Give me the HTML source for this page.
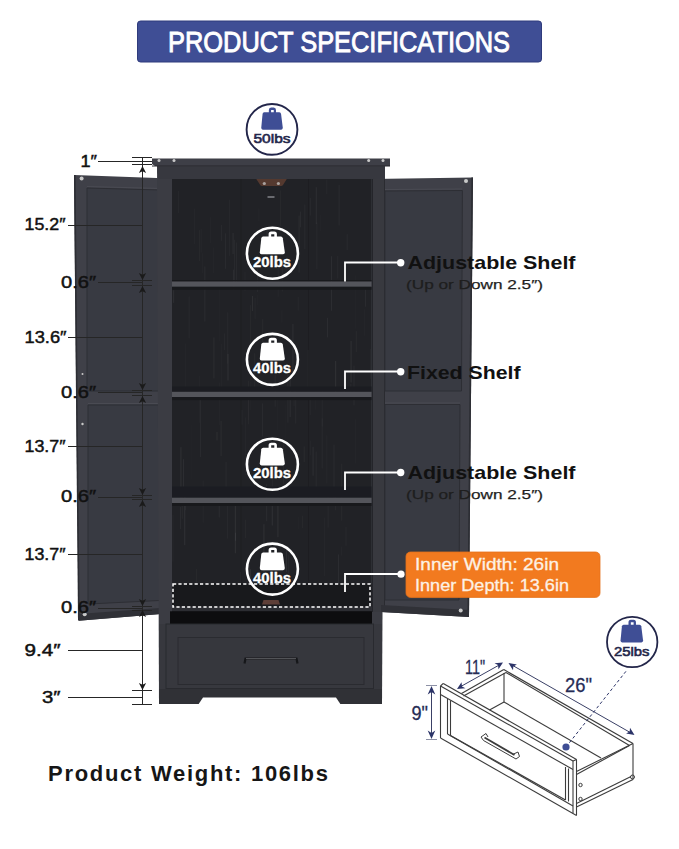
<!DOCTYPE html>
<html><head><meta charset="utf-8">
<style>
html,body{margin:0;padding:0;background:#fff;width:679px;height:849px;overflow:hidden}
svg{display:block}
text{font-family:"Liberation Sans",sans-serif}
</style></head>
<body>
<svg width="679" height="849" viewBox="0 0 679 849">
<defs>
  <g id="wt">
    <path d="M-2.6,-16 L-2.6,-19 Q-2.6,-20.3 -1.3,-20.3 L1.8,-20.3 Q3.1,-20.3 3.1,-19 L3.1,-16" fill="none" stroke-width="2.6"/>
    <path d="M-9.3,-16.6 L8.3,-16.6 Q10,-16.6 10.3,-15 L12.3,-1 Q12.5,1.1 10.5,1.1 L-11,1.1 Q-12.9,1.1 -12.7,-1 L-11.2,-15 Q-11,-16.6 -9.3,-16.6 Z" stroke="none"/>
  </g>
</defs>
<rect width="679" height="849" fill="#fff"/>

<!-- Banner -->
<rect x="137.5" y="21" width="404" height="41" rx="3" fill="#3f4e95" stroke="#2f3b7c" stroke-width="1"/>
<text x="168" y="51.5" font-size="29" fill="#fff" stroke="#fff" stroke-width="0.9" textLength="342" lengthAdjust="spacingAndGlyphs">PRODUCT SPECIFICATIONS</text>

<!-- 50lbs circle -->
<circle cx="272" cy="129.4" r="25.4" fill="#fff" stroke="#23264a" stroke-width="1.9"/>
<g transform="translate(272.2,128.6) scale(0.86,0.98)" fill="#3f4e95" stroke="#3f4e95"><use href="#wt"/></g>
<text x="253.5" y="143" font-size="13.4" fill="#23264a" stroke="#23264a" stroke-width="0.6" textLength="37" lengthAdjust="spacingAndGlyphs">50lbs</text>

<!-- ===== CABINET ===== -->
<!-- left door -->
<polygon points="74,175 157,178 172,179 173,613 78.5,620.7" fill="#3f4048"/>
<line x1="74.8" y1="175" x2="78.8" y2="620" stroke="#2c2d33" stroke-width="1.6"/>
<polygon points="87,188 161,190 161,391 87,391" fill="#383a42" stroke="#2d2e34" stroke-width="1"/>
<polygon points="88,405 161.5,405 161.5,600.4 88,604" fill="#383a42" stroke="#2d2e34" stroke-width="1"/>
<line x1="87" y1="186.5" x2="161" y2="188.5" stroke="#4a4b53" stroke-width="1"/><line x1="88" y1="403.5" x2="161" y2="403.5" stroke="#4a4b53" stroke-width="1"/>
<polygon points="78.5,620.7 173,613 173,607 78.5,614" fill="#303137"/>
<line x1="161.5" y1="179" x2="161.5" y2="612" stroke="#25262b" stroke-width="1"/>
<!-- body -->
<polygon points="157,165 385,165 382,704 159,704" fill="#3b3c43"/>
<!-- top slab -->
<polygon points="152,158.5 390,158.5 390,166 155,166 152,164" fill="#3e3f47"/>
<line x1="152" y1="166" x2="390" y2="166" stroke="#26272c" stroke-width="1"/>
<rect x="158" y="166.5" width="227" height="12.5" fill="#37383f"/>
<!-- interior -->
<rect x="172" y="179" width="199.5" height="433" fill="#212226"/>
<g id="grain" opacity="1">
<rect x="236.4" y="242.5" width="0.6" height="41.8" fill="#fff" opacity="0.06"/>
<rect x="190.7" y="424.4" width="0.8" height="55.3" fill="#fff" opacity="0.02"/>
<rect x="258.3" y="208.4" width="1.2" height="12.7" fill="#fff" opacity="0.02"/>
<rect x="284.5" y="577.9" width="0.6" height="27.1" fill="#fff" opacity="0.04"/>
<rect x="250.9" y="590.0" width="0.8" height="10.4" fill="#fff" opacity="0.03"/>
<rect x="200.7" y="228.6" width="0.8" height="24.0" fill="#fff" opacity="0.03"/>
<rect x="285.7" y="258.1" width="0.6" height="13.1" fill="#fff" opacity="0.04"/>
<rect x="295.2" y="388.0" width="1.0" height="35.6" fill="#fff" opacity="0.04"/>
<rect x="355.8" y="331.2" width="0.8" height="20.9" fill="#fff" opacity="0.05"/>
<rect x="220.6" y="420.8" width="1.0" height="35.3" fill="#fff" opacity="0.05"/>
<rect x="229.3" y="591.7" width="1.2" height="13.3" fill="#fff" opacity="0.03"/>
<rect x="240.1" y="571.9" width="0.6" height="29.9" fill="#fff" opacity="0.06"/>
<rect x="286.0" y="547.6" width="1.0" height="24.3" fill="#fff" opacity="0.05"/>
<rect x="287.4" y="371.1" width="1.0" height="51.7" fill="#fff" opacity="0.04"/>
<rect x="304.2" y="204.5" width="1.2" height="44.5" fill="#fff" opacity="0.03"/>
<rect x="248.8" y="460.5" width="1.2" height="9.2" fill="#fff" opacity="0.03"/>
<rect x="293.6" y="386.8" width="1.0" height="19.3" fill="#fff" opacity="0.03"/>
<rect x="221.3" y="343.6" width="0.6" height="53.3" fill="#fff" opacity="0.03"/>
<rect x="251.9" y="296.0" width="1.2" height="15.1" fill="#fff" opacity="0.06"/>
<rect x="227.4" y="353.8" width="1.2" height="26.7" fill="#fff" opacity="0.06"/>
<rect x="202.0" y="253.2" width="0.8" height="20.1" fill="#fff" opacity="0.02"/>
<rect x="337.4" y="255.8" width="0.8" height="22.7" fill="#fff" opacity="0.04"/>
<rect x="245.5" y="417.4" width="0.6" height="57.6" fill="#fff" opacity="0.04"/>
<rect x="345.3" y="579.7" width="1.2" height="25.3" fill="#fff" opacity="0.03"/>
<rect x="250.4" y="381.7" width="0.8" height="28.8" fill="#fff" opacity="0.02"/>
<rect x="213.5" y="247.3" width="0.6" height="25.7" fill="#fff" opacity="0.03"/>
<rect x="284.8" y="404.9" width="0.6" height="57.3" fill="#fff" opacity="0.02"/>
<rect x="213.4" y="337.4" width="1.0" height="41.0" fill="#fff" opacity="0.05"/>
<rect x="266.4" y="227.6" width="1.2" height="33.4" fill="#fff" opacity="0.04"/>
<rect x="234.1" y="239.7" width="1.0" height="47.0" fill="#fff" opacity="0.04"/>
<rect x="309.7" y="396.4" width="1.0" height="18.7" fill="#fff" opacity="0.03"/>
<rect x="280.1" y="190.4" width="0.6" height="35.5" fill="#fff" opacity="0.05"/>
<rect x="224.0" y="333.4" width="0.8" height="16.7" fill="#fff" opacity="0.04"/>
<rect x="327.0" y="317.8" width="0.8" height="19.6" fill="#fff" opacity="0.06"/>
<rect x="334.8" y="490.5" width="1.2" height="19.8" fill="#fff" opacity="0.03"/>
<rect x="177.8" y="190.8" width="1.0" height="22.5" fill="#fff" opacity="0.03"/>
<rect x="292.4" y="323.9" width="1.0" height="50.0" fill="#fff" opacity="0.06"/>
<rect x="244.6" y="271.8" width="0.8" height="19.8" fill="#fff" opacity="0.03"/>
<rect x="268.0" y="593.8" width="0.6" height="11.2" fill="#fff" opacity="0.04"/>
<rect x="301.9" y="515.7" width="0.6" height="12.4" fill="#fff" opacity="0.06"/>
<rect x="327.7" y="494.8" width="0.8" height="32.9" fill="#fff" opacity="0.04"/>
<rect x="298.5" y="215.5" width="1.2" height="57.2" fill="#fff" opacity="0.04"/>
<rect x="319.9" y="214.8" width="0.8" height="16.3" fill="#fff" opacity="0.02"/>
<rect x="289.6" y="374.9" width="1.2" height="42.1" fill="#fff" opacity="0.05"/>
<rect x="241.7" y="410.0" width="0.6" height="14.8" fill="#fff" opacity="0.06"/>
<rect x="316.5" y="222.3" width="0.8" height="47.0" fill="#fff" opacity="0.04"/>
<rect x="345.5" y="526.8" width="1.0" height="19.0" fill="#fff" opacity="0.03"/>
<rect x="271.7" y="500.5" width="1.2" height="25.0" fill="#fff" opacity="0.06"/>
<rect x="184.1" y="490.5" width="1.2" height="54.7" fill="#fff" opacity="0.06"/>
<rect x="346.8" y="234.1" width="0.6" height="15.9" fill="#fff" opacity="0.06"/>
<rect x="326.5" y="435.2" width="0.8" height="48.4" fill="#fff" opacity="0.03"/>
<rect x="266.2" y="484.3" width="1.0" height="36.9" fill="#fff" opacity="0.05"/>
<rect x="277.6" y="382.1" width="0.6" height="48.4" fill="#fff" opacity="0.03"/>
<rect x="227.1" y="504.1" width="0.6" height="34.4" fill="#fff" opacity="0.06"/>
<rect x="353.6" y="365.6" width="0.8" height="39.9" fill="#fff" opacity="0.05"/>
<rect x="262.0" y="403.5" width="0.8" height="32.9" fill="#fff" opacity="0.05"/>
<rect x="346.4" y="575.7" width="0.8" height="21.5" fill="#fff" opacity="0.06"/>
<rect x="199.3" y="230.2" width="0.6" height="31.0" fill="#fff" opacity="0.05"/>
<rect x="257.2" y="268.5" width="0.6" height="23.7" fill="#fff" opacity="0.06"/>
<rect x="202.7" y="480.5" width="0.8" height="42.3" fill="#fff" opacity="0.03"/>
<rect x="199.3" y="375.9" width="0.6" height="46.8" fill="#fff" opacity="0.03"/>
<rect x="269.0" y="595.7" width="0.8" height="9.3" fill="#fff" opacity="0.05"/>
<rect x="369.8" y="349.0" width="1.0" height="29.9" fill="#fff" opacity="0.03"/>
<rect x="315.7" y="187.2" width="1.2" height="36.8" fill="#fff" opacity="0.05"/>
<rect x="248.5" y="396.8" width="0.6" height="23.4" fill="#fff" opacity="0.03"/>
<rect x="354.8" y="275.2" width="0.6" height="53.6" fill="#fff" opacity="0.03"/>
<rect x="179.9" y="507.0" width="0.8" height="22.1" fill="#fff" opacity="0.06"/>
<rect x="341.1" y="463.6" width="1.2" height="57.2" fill="#fff" opacity="0.03"/>
<rect x="354.9" y="419.2" width="0.6" height="44.4" fill="#fff" opacity="0.03"/>
<rect x="331.1" y="256.2" width="1.0" height="54.6" fill="#fff" opacity="0.06"/>
<rect x="298.3" y="516.5" width="0.8" height="12.4" fill="#fff" opacity="0.02"/>
<rect x="343.7" y="370.0" width="1.2" height="25.6" fill="#fff" opacity="0.06"/>
<rect x="225.3" y="233.4" width="0.8" height="35.4" fill="#fff" opacity="0.06"/>
<rect x="364.9" y="289.3" width="1.0" height="17.4" fill="#fff" opacity="0.05"/>
<rect x="277.7" y="265.7" width="0.8" height="31.2" fill="#fff" opacity="0.03"/>
<rect x="331.9" y="597.7" width="0.6" height="7.3" fill="#fff" opacity="0.05"/>
<rect x="281.7" y="258.8" width="1.2" height="32.7" fill="#fff" opacity="0.03"/>
<rect x="335.0" y="360.9" width="1.2" height="33.7" fill="#fff" opacity="0.06"/>
<rect x="233.2" y="269.6" width="0.8" height="19.9" fill="#fff" opacity="0.06"/>
<rect x="312.6" y="446.7" width="1.0" height="29.0" fill="#fff" opacity="0.06"/>
<rect x="338.6" y="185.0" width="1.0" height="40.5" fill="#fff" opacity="0.04"/>
<rect x="183.0" y="459.1" width="1.0" height="27.8" fill="#fff" opacity="0.05"/>
<rect x="309.8" y="198.0" width="1.0" height="17.6" fill="#fff" opacity="0.04"/>
<rect x="224.4" y="583.9" width="1.0" height="21.1" fill="#fff" opacity="0.03"/>
<rect x="364.2" y="309.3" width="0.6" height="26.5" fill="#fff" opacity="0.03"/>
<rect x="188.7" y="296.4" width="0.8" height="42.1" fill="#fff" opacity="0.04"/>
<rect x="173.0" y="290.2" width="1.2" height="12.7" fill="#fff" opacity="0.05"/>
<rect x="250.4" y="305.2" width="0.6" height="40.7" fill="#fff" opacity="0.05"/>
<rect x="277.3" y="495.0" width="1.2" height="42.2" fill="#fff" opacity="0.06"/>
<rect x="315.4" y="387.1" width="0.8" height="22.8" fill="#fff" opacity="0.02"/>
<rect x="338.2" y="554.5" width="0.8" height="40.6" fill="#fff" opacity="0.06"/>
<rect x="321.8" y="418.3" width="0.6" height="50.3" fill="#fff" opacity="0.06"/>
<rect x="288.2" y="554.9" width="0.8" height="43.5" fill="#fff" opacity="0.03"/>
<rect x="180.3" y="447.2" width="1.2" height="57.9" fill="#fff" opacity="0.06"/>
<rect x="283.1" y="443.3" width="0.8" height="40.6" fill="#fff" opacity="0.04"/>
<rect x="172.7" y="514.8" width="0.6" height="46.9" fill="#fff" opacity="0.05"/>
<rect x="185.1" y="489.2" width="0.6" height="21.1" fill="#fff" opacity="0.06"/>
<rect x="218.7" y="497.5" width="1.2" height="20.0" fill="#fff" opacity="0.04"/>
<rect x="248.1" y="380.7" width="0.6" height="43.6" fill="#fff" opacity="0.05"/>
<rect x="299.9" y="211.6" width="1.0" height="15.7" fill="#fff" opacity="0.05"/>
<rect x="309.9" y="440.5" width="1.2" height="14.9" fill="#fff" opacity="0.02"/>
<rect x="225.5" y="461.9" width="1.2" height="44.0" fill="#fff" opacity="0.03"/>
<rect x="274.8" y="374.6" width="0.6" height="32.2" fill="#fff" opacity="0.06"/>
<rect x="281.3" y="310.2" width="1.2" height="12.5" fill="#fff" opacity="0.02"/>
<rect x="263.3" y="524.2" width="1.2" height="58.3" fill="#fff" opacity="0.06"/>
<rect x="249.0" y="564.9" width="0.6" height="40.1" fill="#fff" opacity="0.04"/>
<rect x="200.2" y="399.6" width="0.8" height="57.5" fill="#fff" opacity="0.05"/>
<rect x="297.7" y="296.7" width="1.0" height="13.9" fill="#fff" opacity="0.03"/>
<rect x="350.6" y="383.7" width="0.6" height="9.3" fill="#fff" opacity="0.06"/>
<rect x="307.6" y="349.7" width="1.2" height="45.8" fill="#fff" opacity="0.03"/>
<rect x="234.9" y="532.7" width="1.0" height="8.1" fill="#fff" opacity="0.06"/>
<rect x="195.9" y="569.0" width="1.0" height="36.0" fill="#fff" opacity="0.03"/>
<rect x="184.9" y="343.3" width="0.6" height="53.2" fill="#fff" opacity="0.03"/>
<rect x="257.2" y="294.8" width="0.6" height="10.5" fill="#fff" opacity="0.02"/>
<rect x="303.7" y="446.3" width="1.0" height="15.7" fill="#fff" opacity="0.04"/>
<rect x="234.8" y="504.5" width="1.2" height="48.8" fill="#fff" opacity="0.06"/>
<rect x="333.6" y="444.6" width="0.8" height="55.5" fill="#fff" opacity="0.05"/>
<rect x="181.8" y="487.3" width="0.8" height="31.4" fill="#fff" opacity="0.05"/>
<rect x="229.0" y="199.6" width="0.8" height="56.2" fill="#fff" opacity="0.03"/>
<rect x="254.6" y="297.6" width="1.0" height="21.3" fill="#fff" opacity="0.03"/>
<rect x="219.5" y="382.4" width="0.6" height="42.8" fill="#fff" opacity="0.03"/>
<rect x="204.2" y="266.5" width="1.2" height="55.1" fill="#fff" opacity="0.04"/>
<rect x="262.1" y="319.1" width="1.2" height="47.5" fill="#fff" opacity="0.03"/>
<rect x="210.3" y="217.2" width="0.6" height="25.8" fill="#fff" opacity="0.03"/>
<rect x="245.3" y="519.7" width="0.6" height="18.5" fill="#fff" opacity="0.05"/>
<rect x="254.1" y="353.2" width="1.2" height="35.3" fill="#fff" opacity="0.03"/>
<rect x="321.7" y="388.7" width="1.0" height="37.9" fill="#fff" opacity="0.03"/>
<rect x="272.2" y="444.1" width="0.8" height="52.9" fill="#fff" opacity="0.03"/>
<rect x="350.5" y="340.9" width="1.2" height="41.6" fill="#fff" opacity="0.06"/>
<rect x="340.9" y="546.5" width="0.6" height="9.1" fill="#fff" opacity="0.04"/>
<rect x="324.0" y="517.6" width="1.2" height="58.4" fill="#fff" opacity="0.02"/>
<rect x="249.9" y="569.2" width="1.2" height="35.8" fill="#fff" opacity="0.06"/>
<rect x="221.4" y="224.9" width="0.6" height="16.0" fill="#fff" opacity="0.06"/>
<rect x="315.6" y="451.5" width="1.2" height="47.8" fill="#fff" opacity="0.03"/>
<rect x="326.6" y="179.6" width="0.6" height="14.5" fill="#fff" opacity="0.05"/>
<rect x="232.5" y="232.9" width="1.2" height="21.1" fill="#fff" opacity="0.05"/>
<rect x="194.3" y="208.6" width="0.8" height="35.3" fill="#fff" opacity="0.03"/>
<rect x="216.5" y="432.0" width="1.0" height="8.5" fill="#fff" opacity="0.06"/>
<rect x="227.4" y="312.2" width="0.8" height="51.6" fill="#fff" opacity="0.04"/>
<rect x="218.7" y="283.0" width="1.0" height="58.0" fill="#fff" opacity="0.02"/>
<rect x="240.5" y="179" width="1" height="428" fill="#000" opacity="0.12"/>
<rect x="308" y="179" width="1" height="428" fill="#000" opacity="0.12"/>
</g>
<!-- bracket -->
<path d="M256.3,179 L286.8,179 L283,185 Q282.4,186 281,186 L262,186 Q260.8,186 260.2,185 Z" fill="#54392f"/>
<circle cx="264.3" cy="183.5" r="1.6" fill="#a9a29f"/><circle cx="278.4" cy="183.5" r="1.6" fill="#a9a29f"/>
<rect x="267.5" y="196" width="7" height="2" fill="#6a6b70"/>
<!-- shelves -->
<rect x="172" y="280" width="199.5" height="1.5" fill="#18191c"/>
<rect x="172" y="281.5" width="199.5" height="5.3" fill="#54555b"/>
<rect x="172" y="286.8" width="199.5" height="3" fill="#18191c"/>
<rect x="172" y="386.5" width="199.5" height="5.3" fill="#1b1c21"/>
<rect x="172" y="391.8" width="199.5" height="5.3" fill="#54555b"/>
<rect x="172" y="397.1" width="199.5" height="3" fill="#18191c"/>
<rect x="172" y="486.5" width="199.5" height="11.2" fill="#1b1c22"/>
<rect x="172" y="497.7" width="199.5" height="5.3" fill="#54555b"/>
<rect x="172" y="503" width="199.5" height="3" fill="#18191c"/>
<rect x="172" y="584" width="199.5" height="23" fill="#18191c"/>
<rect x="172" y="606.5" width="199.5" height="4.8" fill="#2c2d32"/>
<rect x="170" y="611.3" width="202" height="13" fill="#0d0d0f"/>
<!-- small brown mark bottom -->
<path d="M262,604.5 L263.5,600 L278.5,600 L280,604.5 Z" fill="#5e3f38"/>
<!-- drawer -->
<rect x="159" y="624" width="223" height="80" fill="#37383e"/>
<rect x="166" y="624" width="207.5" height="64.5" fill="#37383e" stroke="#292a2f" stroke-width="1"/>
<rect x="178" y="637.5" width="186" height="47" fill="#36373d" stroke="#2a2b30" stroke-width="1"/>
<rect x="159" y="689" width="223" height="15" fill="#303136"/>
<path d="M244.5,663.5 L245.5,658.5 L296.5,658.5 L297.5,663.5" fill="none" stroke="#16171a" stroke-width="2.2"/><line x1="246" y1="658.6" x2="296" y2="658.6" stroke="#6a6b70" stroke-width="0.8"/>
<path d="M198,705 L203,697.5 L336,697.5 L341,705 Z" fill="#fff"/>
<!-- right door -->
<polygon points="372,179 473,177.5 469,617 381,612 372,612" fill="#3f4048"/>
<line x1="472.2" y1="177.5" x2="468.2" y2="617" stroke="#2c2d33" stroke-width="1.6"/>
<rect x="372" y="179" width="12.5" height="433" fill="#38393f"/>
<line x1="372.5" y1="179" x2="372.5" y2="612" stroke="#24252a" stroke-width="1"/>
<line x1="384.5" y1="179" x2="384.5" y2="612" stroke="#2a2b30" stroke-width="1"/>
<polygon points="385,191 462.4,190.5 461.5,391 385,391" fill="#383a42" stroke="#2d2e34" stroke-width="1"/>
<polygon points="385,404.5 460,404.5 459,600 385,600" fill="#383a42" stroke="#2d2e34" stroke-width="1"/>
<line x1="385" y1="189.5" x2="462" y2="189" stroke="#4a4b53" stroke-width="1"/><line x1="385" y1="403" x2="460" y2="403" stroke="#4a4b53" stroke-width="1"/>
<polygon points="381,612 469,617 469,610 381,605" fill="#303137"/>
<!-- screws -->
<g fill="#c9c9c9">
<circle cx="81.6" cy="178.5" r="2"/><circle cx="466" cy="181" r="2"/>
<circle cx="82.5" cy="374" r="1"/><circle cx="82.5" cy="424" r="1.2"/>
<circle cx="84.7" cy="614.3" r="2"/><circle cx="460.7" cy="610.4" r="2"/>
<circle cx="159" cy="160.5" r="1.5"/><circle cx="174" cy="160.5" r="1.5"/>
<circle cx="368.7" cy="160.6" r="1.5"/><circle cx="383" cy="160.6" r="1.5"/>
</g>

<!-- circles in cabinet -->
<g fill="none" stroke="#fff" stroke-width="2.6">
<circle cx="272.4" cy="253.2" r="25.5"/>
<circle cx="272.4" cy="359.4" r="25.5"/>
<circle cx="272.4" cy="464.3" r="25.5"/>
<circle cx="272.4" cy="569.1" r="25.5"/>
</g>
<g fill="#fff" stroke="#fff">
<g transform="translate(272.5,253.2)"><use href="#wt"/></g>
<g transform="translate(272.5,359.4)"><use href="#wt"/></g>
<g transform="translate(272.5,464.3)"><use href="#wt"/></g>
<g transform="translate(272.5,569.1)"><use href="#wt"/></g>
</g>
<g font-size="14.5" font-weight="bold" fill="#fff" stroke="#fff" stroke-width="0.3">
<text x="253" y="267.0" textLength="38" lengthAdjust="spacingAndGlyphs">20lbs</text>
<text x="253" y="373.2" textLength="38" lengthAdjust="spacingAndGlyphs">40lbs</text>
<text x="253" y="478.1" textLength="38" lengthAdjust="spacingAndGlyphs">20lbs</text>
<text x="253" y="582.9" textLength="38" lengthAdjust="spacingAndGlyphs">40lbs</text>
</g>
<!-- dashed rect -->
<rect x="173" y="584" width="197" height="23" fill="none" stroke="#fff" stroke-width="1.5" stroke-dasharray="3.2,2.2"/>

<!-- leaders -->
<g stroke="#fff" stroke-width="1.8" fill="none">
<polyline points="345,281.5 345,262.5 400,262.5"/>
<polyline points="345,389 345,371.5 400,371.5"/>
<polyline points="345,490 345,472.5 400,472.5"/>
<polyline points="345,592 345,574 401,574"/>
</g>
<g fill="#fff">
<circle cx="400.7" cy="262.8" r="3.7"/><circle cx="400.7" cy="371.7" r="3.7"/>
<circle cx="400.7" cy="472.5" r="3.7"/><circle cx="401" cy="574.2" r="3.6"/>
</g>

<!-- labels -->
<g font-weight="bold" fill="#111">
<text x="407.5" y="269" font-size="18.4" textLength="168" lengthAdjust="spacingAndGlyphs">Adjustable Shelf</text>
<text x="407" y="378.6" font-size="18.4" textLength="113.5" lengthAdjust="spacingAndGlyphs">Fixed Shelf</text>
<text x="407.5" y="479" font-size="18.4" textLength="168" lengthAdjust="spacingAndGlyphs">Adjustable Shelf</text>
</g>
<g fill="#1e1e1e" stroke="#1e1e1e" stroke-width="0.25">
<text x="406" y="288.6" font-size="13.6" textLength="137" lengthAdjust="spacingAndGlyphs">(Up or Down 2.5″)</text>
<text x="406" y="498.6" font-size="13.6" textLength="137" lengthAdjust="spacingAndGlyphs">(Up or Down 2.5″)</text>
</g>

<!-- orange box -->
<rect x="406" y="552" width="194" height="45.4" rx="4.5" fill="#f27a1f" stroke="#e5721c" stroke-width="0.8"/>
<g fill="#fdf1e4" stroke="#fdf1e4" stroke-width="0.3" font-size="17">
<text x="415" y="570" textLength="144" lengthAdjust="spacingAndGlyphs">Inner Width: 26in</text>
<text x="415" y="590.9" textLength="154" lengthAdjust="spacingAndGlyphs">Inner Depth: 13.6in</text>
</g>

<!-- dimension lines left -->
<g stroke="#262626" stroke-width="1" fill="none">
<line x1="142.5" y1="157" x2="142.5" y2="705"/>
<line x1="98" y1="161.5" x2="152" y2="161.5"/>
<line x1="132" y1="157.5" x2="152" y2="157.5"/>
<line x1="132" y1="164.5" x2="152" y2="164.5"/>
<line x1="68" y1="225.5" x2="142.5" y2="225.5"/>
<line x1="98" y1="282.5" x2="142.5" y2="282.5"/>
<line x1="132" y1="280.5" x2="152" y2="280.5"/>
<line x1="132" y1="285.5" x2="152" y2="285.5"/>
<line x1="68" y1="337.5" x2="142.5" y2="337.5"/>
<line x1="98" y1="392.5" x2="142.5" y2="392.5"/>
<line x1="132" y1="390.5" x2="152" y2="390.5"/>
<line x1="132" y1="395.5" x2="152" y2="395.5"/>
<line x1="68" y1="446.5" x2="142.5" y2="446.5"/>
<line x1="98" y1="497.5" x2="142.5" y2="497.5"/>
<line x1="132" y1="495.5" x2="152" y2="495.5"/>
<line x1="132" y1="499.5" x2="152" y2="499.5"/>
<line x1="68" y1="554.5" x2="142.5" y2="554.5"/>
<line x1="98" y1="608.5" x2="142.5" y2="608.5"/>
<line x1="132" y1="606.5" x2="152" y2="606.5"/>
<line x1="132" y1="610.5" x2="152" y2="610.5"/>
<line x1="68" y1="650.5" x2="142.5" y2="650.5"/>
<line x1="68" y1="697.5" x2="142.5" y2="697.5"/>
<line x1="132" y1="690.5" x2="152" y2="690.5"/>
<line x1="132" y1="704.5" x2="152" y2="704.5"/>
</g>
<g fill="#1a1a1a">
<path d="M142.5,166 l-3.6,7 l3.6,-1.8 l3.6,1.8 z"/>
<path d="M142.5,286 l-3.6,7 l3.6,-1.8 l3.6,1.8 z"/>
<path d="M142.5,396 l-3.6,7 l3.6,-1.8 l3.6,1.8 z"/>
<path d="M142.5,500 l-3.6,7 l3.6,-1.8 l3.6,1.8 z"/>
<path d="M142.5,610 l-3.6,7 l3.6,-1.8 l3.6,1.8 z"/>
<path d="M142.5,280 l-3.6,-7 l3.6,1.8 l3.6,-1.8 z"/>
<path d="M142.5,390 l-3.6,-7 l3.6,1.8 l3.6,-1.8 z"/>
<path d="M142.5,495 l-3.6,-7 l3.6,1.8 l3.6,-1.8 z"/>
<path d="M142.5,606 l-3.6,-7 l3.6,1.8 l3.6,-1.8 z"/>
<path d="M142.5,690 l-3.6,-7 l3.6,1.8 l3.6,-1.8 z"/>
</g>
<g font-weight="normal" fill="#111" stroke="#111" stroke-width="0.45" font-size="16">
<text x="80.5" y="166.5" textLength="16.5" lengthAdjust="spacingAndGlyphs">1″</text>
<text x="24.5" y="230" textLength="41" lengthAdjust="spacingAndGlyphs">15.2″</text>
<text x="61" y="287.5" textLength="35" lengthAdjust="spacingAndGlyphs">0.6″</text>
<text x="24.5" y="343" textLength="42" lengthAdjust="spacingAndGlyphs">13.6″</text>
<text x="61" y="397.5" textLength="35" lengthAdjust="spacingAndGlyphs">0.6″</text>
<text x="24.5" y="452" textLength="41" lengthAdjust="spacingAndGlyphs">13.7″</text>
<text x="61" y="502" textLength="35" lengthAdjust="spacingAndGlyphs">0.6″</text>
<text x="24.5" y="560" textLength="41" lengthAdjust="spacingAndGlyphs">13.7″</text>
<text x="61" y="613" textLength="35" lengthAdjust="spacingAndGlyphs">0.6″</text>
<text x="24.5" y="656" textLength="36" lengthAdjust="spacingAndGlyphs">9.4″</text>
<text x="42" y="703" textLength="18.5" lengthAdjust="spacingAndGlyphs">3″</text>
</g>

<!-- Product weight -->
<text x="48" y="781" font-size="22" font-weight="bold" fill="#161616" textLength="280" lengthAdjust="spacing">Product Weight: 106lbs</text>

<!-- ===== DRAWER DIAGRAM ===== -->
<g stroke="#3c3c3c" stroke-width="1.1" fill="none" stroke-linejoin="round">
  <!-- front face -->
  <line x1="440.5" y1="686" x2="440.5" y2="738"/>
  <line x1="440.5" y1="686" x2="443.3" y2="683.4"/>
  <line x1="443.3" y1="683.4" x2="576.5" y2="759.5"/>
  <line x1="440.5" y1="686" x2="573" y2="761"/>
  <line x1="440.5" y1="694.5" x2="573" y2="769.5"/>
  <line x1="447.5" y1="698.5" x2="447.5" y2="734"/>
  <line x1="450.5" y1="700.5" x2="450.5" y2="735.5"/>
  <line x1="565.5" y1="767" x2="565.5" y2="800"/>
  <line x1="568.5" y1="768.5" x2="568.5" y2="801.5"/>
  <line x1="447.5" y1="734" x2="573" y2="806"/>
  <line x1="450.5" y1="735.5" x2="565.5" y2="800"/>
  <line x1="440.5" y1="738" x2="573" y2="813.5"/>
  <line x1="573" y1="761" x2="573" y2="813.5"/>
  <line x1="576.5" y1="759.5" x2="576.5" y2="815.5"/>
  <line x1="573" y1="761" x2="576.5" y2="759.5"/>
  <line x1="573" y1="813.5" x2="576.5" y2="815.5"/>
  <!-- left wall top -->
  <line x1="461.5" y1="693.4" x2="503.8" y2="669.6"/>
  <line x1="463.5" y1="696" x2="506" y2="672.5"/>
  <!-- back wall top -->
  <line x1="503.8" y1="669.6" x2="633" y2="743.5"/>
  <line x1="506" y1="672.5" x2="629.5" y2="745.5"/>
  <!-- right wall -->
  <line x1="576.5" y1="771.5" x2="633" y2="743.5"/>
  <line x1="576.5" y1="774.5" x2="629.5" y2="745.5"/>
  <line x1="633" y1="743.5" x2="633" y2="779.5"/>
  <line x1="576.5" y1="807" x2="633" y2="779.5"/>
  <line x1="576.5" y1="803.5" x2="631" y2="776.5"/>
  <!-- interior -->
  <line x1="504" y1="673" x2="504" y2="702"/>
  <line x1="489.5" y1="710" x2="504" y2="702"/>
  <line x1="504" y1="702" x2="601" y2="758"/>
  <!-- handle -->
  <path d="M481,737 L486,733.5 L488,737 M481,737 L483.5,740.5 L516,759 L519.5,756.5 L518,752 L512.5,754.5" stroke-width="1"/>
  <line x1="484.5" y1="737.5" x2="514.5" y2="755" stroke-width="1.8"/>
</g>
<g fill="none" stroke="#3c3c3c" stroke-width="1">
  <circle cx="632.5" cy="777" r="2"/>
  <circle cx="580.5" cy="785" r="1.7"/>
  <circle cx="580.5" cy="799" r="1.7"/>
</g>
<!-- 9'' -->
<g stroke="#8d91a6" stroke-width="1" fill="none">
  <line x1="426" y1="685.5" x2="437" y2="685.5"/>
  <line x1="426" y1="739.5" x2="437" y2="739.5"/>
</g>
<g stroke="#3a4066" stroke-width="1" fill="none">
  <line x1="431.5" y1="688" x2="431.5" y2="737"/>
  <line x1="459" y1="687.5" x2="501" y2="664"/>
  <line x1="511" y1="664.5" x2="632" y2="733.5"/>
</g>
<g fill="#2c3468">
  <path d="M431.5,686 l-3.8,8.5 l3.8,-2.5 l3.8,2.5 z"/>
  <path d="M431.5,739 l-3.8,-8.5 l3.8,2.5 l3.8,-2.5 z"/>
  <path d="M457,689 l8.5,-0.8 l-3.5,-1.8 l-0.5,-4.2 z"/>
  <path d="M503,662.5 l-8.5,0.8 l3.5,1.8 l0.5,4.2 z"/>
  <path d="M508.5,663 l4.5,7.2 l0.3,-3.8 l3.6,-1.8 z"/>
  <path d="M634.5,735 l-4.5,-7.2 l-0.3,3.8 l-3.6,1.8 z"/>
</g>
<line x1="566" y1="747" x2="627" y2="670" stroke="#2c3468" stroke-width="1" stroke-dasharray="3,2.5"/>
<circle cx="566" cy="747" r="3.6" fill="#3f4e95"/>
<g fill="#262c55" stroke="#262c55" stroke-width="0.3" font-size="21">
<text x="411.5" y="720" textLength="16.5" lengthAdjust="spacingAndGlyphs">9"</text>
<text x="465" y="673.7" textLength="20" lengthAdjust="spacingAndGlyphs">11"</text>
<text x="565" y="691.5" textLength="27" lengthAdjust="spacingAndGlyphs">26"</text>
</g>
<!-- 25lbs -->
<circle cx="632.2" cy="642" r="25.2" fill="#fff" stroke="#23264a" stroke-width="1.8"/>
<g transform="translate(632,641.3) scale(0.9,1.0)" fill="#3f4e95" stroke="#3f4e95"><use href="#wt"/></g>
<text x="614" y="655.7" font-size="13.4" fill="#23264a" stroke="#23264a" stroke-width="0.6" textLength="35.5" lengthAdjust="spacingAndGlyphs">25lbs</text>

</svg>
</body></html>
